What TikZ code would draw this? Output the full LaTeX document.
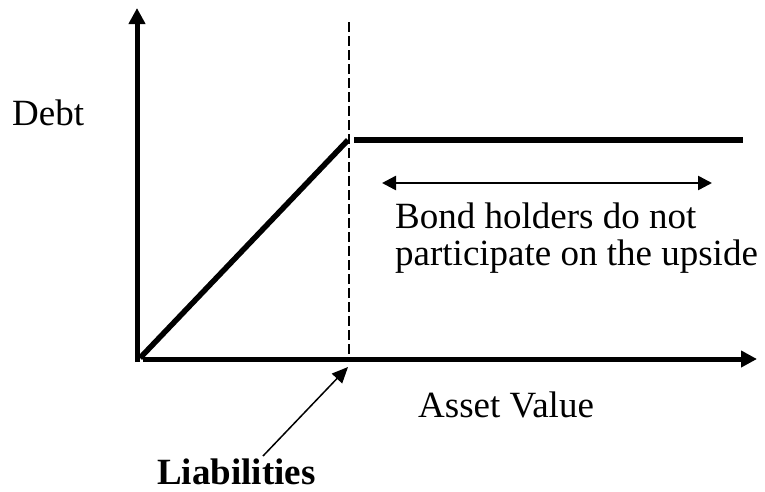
\documentclass[tikz,border=0pt]{standalone}
\usepackage{fontspec}
\setmainfont{Liberation Serif}
\usetikzlibrary{arrows.meta}
\begin{document}
\begin{tikzpicture}[x=1pt,y=-1pt,
  lbl/.style={inner sep=0pt,anchor=base west,font=\fontsize{37}{37}\selectfont},
  axis/.style={line width=5pt,-{Triangle[length=16pt,width=16pt]}},
  thick line/.style={line width=5.5pt},
  guide/.style={line width=1.5pt,dash pattern=on 10pt off 4pt}]
\useasboundingbox (0,0) rectangle (765,491);
% coordinates
\coordinate (yb) at (137,362);
\coordinate (yt) at (137,8);
\coordinate (xl) at (143,359);
\coordinate (xr) at (757,359);
\coordinate (o) at (140,358);
\coordinate (k) at (348,140);
\coordinate (h1) at (354,140);
\coordinate (h2) at (743,140);
\coordinate (dt) at (349,22);
\coordinate (db) at (349,359);
\coordinate (a1) at (382,183);
\coordinate (a2) at (712,183);
\coordinate (ls) at (263,456);
\coordinate (le) at (348,367);
% axes
\draw[axis] (yb) -- (yt);
\draw[axis] (xl) -- (xr);
% dashed guide
\draw[guide] (dt) -- (db);
% payoff
\draw[thick line] (o) -- (k);
\draw[thick line] (h1) -- (h2);
% double arrow
\draw[line width=2.5pt,{Triangle[length=14pt,width=14pt]}-{Triangle[length=14pt,width=14pt]}] (a1) -- (a2);
% liabilities arrow
\draw[line width=1.5pt,-{Triangle[length=16pt,width=14pt]}] (ls) -- (le);
% labels
\node[lbl] (debt) at (12,125) {Debt};
\node[lbl] (bond1) at (395,228) {Bond holders do not};
\node[lbl] (bond2) at (395,265) {participate on the upside};
\node[lbl] (asset) at (418,417) {Asset Value};
\node[lbl,font=\fontsize{37}{37}\selectfont\bfseries] (liab) at (157,484) {Liabilities};
\end{tikzpicture}
\end{document}
